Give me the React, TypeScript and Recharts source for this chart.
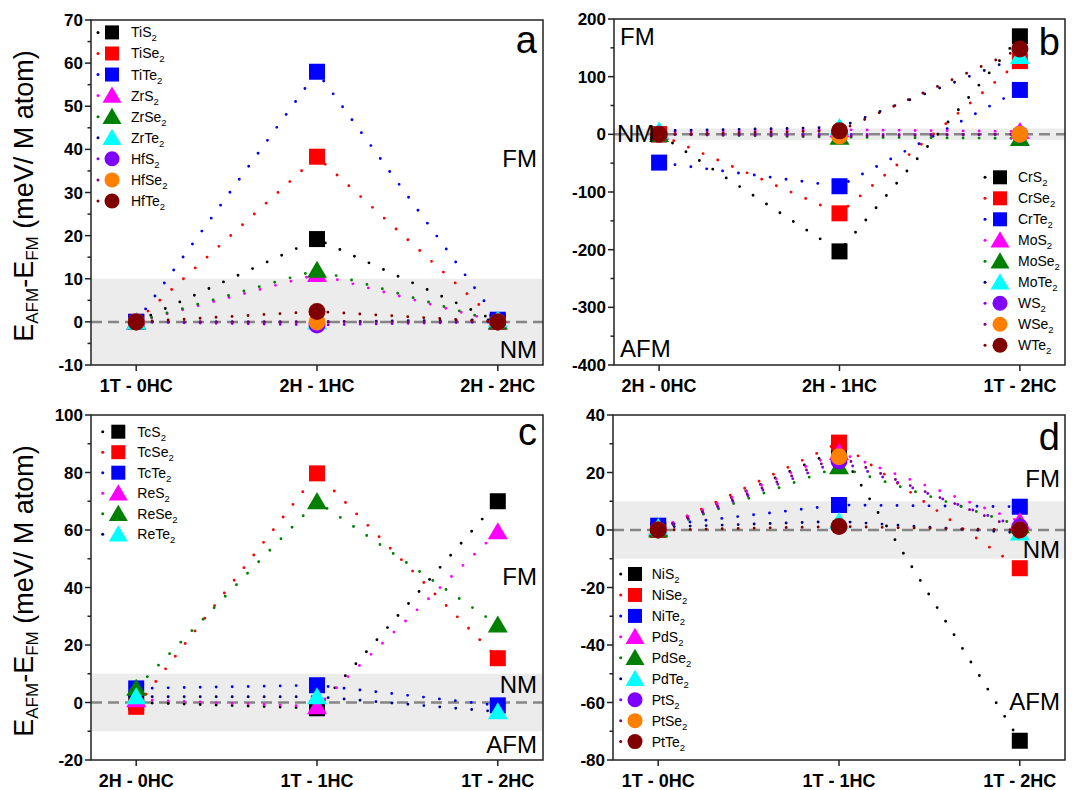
import React from "react";
import { LineChart, Line, XAxis, YAxis, ReferenceArea, ReferenceLine } from "recharts";

const FONT = "Arial, 'Liberation Sans', sans-serif";

// category labels
const catsA = ["1T - 0HC", "2H - 1HC", "2H - 2HC"];
const catsB = ["2H - 0HC", "2H - 1HC", "1T - 2HC"];
const catsC = ["2H - 0HC", "1T - 1HC", "1T - 2HC"];
const catsD = ["1T - 0HC", "1T - 1HC", "1T - 2HC"];

// panel a (Ti, Zr, Hf)
const namesA = ["TiS", "TiSe", "TiTe", "ZrS", "ZrSe", "ZrTe", "HfS", "HfSe", "HfTe"];
const TiS2 = [0, 19.2, 0];
const TiSe2 = [0, 38.3, 0];
const TiTe2 = [0, 58, 0.5];
const ZrS2 = [0, 11, 0];
const ZrSe2 = [0, 12, 0];
const ZrTe2 = [0, 0, 0.5];
const HfS2 = [0, -0.7, 0];
const HfSe2 = [0, 0, 0];
const HfTe2 = [0, 2.4, 0];

// panel b (Cr, Mo, W)
const namesB = ["CrS", "CrSe", "CrTe", "MoS", "MoSe", "MoTe", "WS", "WSe", "WTe"];
const CrS2 = [0, -203, 170];
const CrSe2 = [0, -137, 127];
const CrTe2 = [-49, -90, 77];
const MoS2 = [4, 8, 5];
const MoSe2 = [0, -5, -7];
const MoTe2 = [6, 12, 135];
const WS2 = [0, 0, 0];
const WSe2 = [0, -3, 0];
const WTe2 = [0, 6, 148];

// panel c (Tc, Re)
const namesC = ["TcS", "TcSe", "TcTe", "ReS", "ReSe", "ReTe"];
const TcS2 = [0, -2, 70];
const TcSe2 = [-1.5, 79.7, 15.4];
const TcTe2 = [4.9, 6, -1];
const ReS2 = [1, -1.4, 59.4];
const ReSe2 = [5, 69.9, 27];
const ReTe2 = [2, 2, -3.2];

// panel d (Ni, Pd, Pt)
const namesD = ["NiS", "NiSe", "NiTe", "PdS", "PdSe", "PdTe", "PtS", "PtSe", "PtTe"];
const NiS2 = [0, 28, -73.3];
const NiSe2 = [0, 30.4, -13.3];
const NiTe2 = [1.5, 8.7, 8.1];
const PdS2 = [0.5, 27, 3];
const PdSe2 = [0, 22, 1.5];
const PdTe2 = [1, 3, -1];
const PtS2 = [0, 24, 1];
const PtSe2 = [0, 25.5, 0];
const PtTe2 = [0, 1.2, 0];

const markerColors = ["#000000", "#ff0000", "#0000ff", "#ff00ff", "#008000", "#00ffff", "#8000ff", "#ff8000", "#800000"];
const lineColors = ["#000000", "#ff0000", "#0000ff", "#ff00ff", "#008000", "#000080", "#8000ff", "#800080", "#800000"];
const shapes = ["square", "square", "square", "triangle", "triangle", "triangle", "circle", "circle", "circle"];

function Marker({ cx, cy, shape, fill, small }: any) {
  if (cx == null || cy == null) return null;
  if (shape === "square") {
    const s = small ? 14 : 16;
    return <rect x={cx - s / 2} y={cy - s / 2} width={s} height={s} fill={fill} />;
  }
  if (shape === "triangle") {
    const w = small ? 9.5 : 10;
    const h = small ? 9 : 9.5;
    return (
      <polygon
        points={`${cx},${cy - h} ${cx - w},${cy + h * 0.8} ${cx + w},${cy + h * 0.8}`}
        fill={fill}
      />
    );
  }
  return <circle cx={cx} cy={cy} r={small ? 7.5 : 8.5} fill={fill} />;
}

function makeTicks(lo: number, hi: number, step: number) {
  const out: number[] = [];
  for (let v = lo; v <= hi + 1e-9; v += step) out.push(Math.round(v * 100) / 100);
  return out;
}

const panels = [
  {
    id: "a", cats: catsA, names: namesA,
    values: [TiS2, TiSe2, TiTe2, ZrS2, ZrSe2, ZrTe2, HfS2, HfSe2, HfTe2],
    domain: [-10, 70], major: 10, minor: 5,
    left: 0, top: 0, width: 560, height: 400,
    margin: { top: 20, right: 17, bottom: 5, left: 0 }, yw: 91, xh: 30,
  },
  {
    id: "b", cats: catsB, names: namesB,
    values: [CrS2, CrSe2, CrTe2, MoS2, MoSe2, MoTe2, WS2, WSe2, WTe2],
    domain: [-400, 200], major: 100, minor: 50,
    left: 540, top: 0, width: 532, height: 400,
    margin: { top: 19, right: 7, bottom: 5, left: 0 }, yw: 74, xh: 30,
  },
  {
    id: "c", cats: catsC, names: namesC,
    values: [TcS2, TcSe2, TcTe2, ReS2, ReSe2, ReTe2],
    domain: [-20, 100], major: 20, minor: 10,
    left: 0, top: 400, width: 560, height: 390,
    margin: { top: 15, right: 17, bottom: 5, left: 0 }, yw: 91, xh: 25,
  },
  {
    id: "d", cats: catsD, names: namesD,
    values: [NiS2, NiSe2, NiTe2, PdS2, PdSe2, PdTe2, PtS2, PtSe2, PtTe2],
    domain: [-80, 40], major: 20, minor: 10,
    left: 540, top: 400, width: 532, height: 390,
    margin: { top: 15, right: 7, bottom: 5, left: 0 }, yw: 73, xh: 25,
  },
];

const legends: Record<string, any> = {
  a: { dotX: 98, markX: 112, textX: 131, y0: 32.4, step: 21.07 },
  b: { dotX: 985, markX: 1000, textX: 1018, y0: 177.3, step: 21.0 },
  c: { dotX: 102.7, markX: 118.3, textX: 137.3, y0: 431.7, step: 20.5 },
  d: { dotX: 620.7, markX: 635, textX: 651.7, y0: 574, step: 20.95 },
};

const stateLabels = [
  { t: "a", x: 537, y: 53, size: 38, anchor: "end" },
  { t: "FM", x: 537, y: 167, size: 24, anchor: "end" },
  { t: "NM", x: 537, y: 358, size: 24, anchor: "end" },
  { t: "b", x: 1060, y: 55, size: 38, anchor: "end" },
  { t: "FM", x: 620, y: 45, size: 24, anchor: "start" },
  { t: "NM", x: 617, y: 142, size: 24, anchor: "start" },
  { t: "AFM", x: 620, y: 357, size: 24, anchor: "start" },
  { t: "c", x: 537, y: 445, size: 38, anchor: "end" },
  { t: "FM", x: 537, y: 585, size: 24, anchor: "end" },
  { t: "NM", x: 537, y: 693, size: 24, anchor: "end" },
  { t: "AFM", x: 537, y: 753, size: 24, anchor: "end" },
  { t: "d", x: 1060, y: 450, size: 38, anchor: "end" },
  { t: "FM", x: 1060, y: 487, size: 24, anchor: "end" },
  { t: "NM", x: 1060, y: 558, size: 24, anchor: "end" },
  { t: "AFM", x: 1060, y: 710, size: 24, anchor: "end" },
];

function Panel({ p }: any) {
  const data = p.cats.map((_: string, i: number) => {
    const row: Record<string, number> = { x: i };
    p.values.forEach((arr: number[], k: number) => {
      row[`s${k}`] = arr[i];
    });
    return row;
  });
  const plotLeft = p.margin.left + p.yw;
  const plotBottom = p.height - p.margin.bottom - p.xh;
  const yTicks = makeTicks(p.domain[0], p.domain[1], p.minor);

  return (
    <div style={{ position: "absolute", left: p.left, top: p.top }}>
      <LineChart width={p.width} height={p.height} data={data} margin={p.margin}>
        <ReferenceArea y1={-10} y2={10} fill="#ececec" fillOpacity={1} stroke="none" />
        <ReferenceLine y={0} stroke="#858585" strokeWidth={2.5} strokeDasharray="11 6" />
        <XAxis
          dataKey="x"
          type="number"
          domain={[-0.25, 2.25]}
          ticks={[0, 1, 2]}
          interval={0}
          height={p.xh}
          axisLine={false}
          tickLine={false}
          tick={(t: any) => (
            <g>
              <line x1={t.x} x2={t.x} y1={plotBottom} y2={plotBottom + 6} stroke="#222" strokeWidth={1.5} />
              <text
                x={t.x}
                y={plotBottom + 27}
                textAnchor="middle"
                fontSize={18}
                fontWeight="bold"
                fontFamily={FONT}
                fill="#000"
              >
                {p.cats[t.payload.value]}
              </text>
            </g>
          )}
        />
        <YAxis
          type="number"
          domain={p.domain}
          ticks={yTicks}
          interval={0}
          width={p.yw}
          axisLine={false}
          tickLine={false}
          tick={(t: any) => {
            const v = t.payload.value;
            const isMajor = Math.abs(v % p.major) < 1e-6;
            return (
              <g>
                <line
                  x1={plotLeft - (isMajor ? 6 : 3.5)}
                  x2={plotLeft}
                  y1={t.y}
                  y2={t.y}
                  stroke="#222"
                  strokeWidth={1.5}
                />
                {isMajor && (
                  <text
                    x={plotLeft - 8}
                    y={t.y}
                    dy={6}
                    textAnchor="end"
                    fontSize={17}
                    fontWeight="bold"
                    fontFamily={FONT}
                    fill="#000"
                  >
                    {v}
                  </text>
                )}
              </g>
            );
          }}
        />
        {p.values.map((_: number[], k: number) => (
          <Line
            key={`${p.id}-${k}`}
            type="linear"
            dataKey={`s${k}`}
            stroke={lineColors[k]}
            strokeWidth={2.9}
            strokeDasharray="0 16"
            strokeLinecap="round"
            activeDot={false}
            isAnimationActive={false}
            dot={(d: any) => (
              <Marker
                key={`${p.id}-${k}-${d.index}`}
                cx={d.cx}
                cy={d.cy}
                shape={shapes[k]}
                fill={markerColors[k]}
              />
            )}
          />
        ))}
      </LineChart>
    </div>
  );
}

function LegendBlock({ p }: any) {
  const L = legends[p.id];
  return (
    <g>
      {p.names.map((n: string, k: number) => {
        const y = L.y0 + k * L.step;
        return (
          <g key={`${p.id}-lg-${k}`}>
            <circle cx={L.dotX} cy={y} r={1.5} fill={lineColors[k]} />
            <Marker cx={L.markX} cy={y} shape={shapes[k]} fill={markerColors[k]} small />
            <text x={L.textX} y={y + 5} fontSize={14} fontFamily={FONT} fill="#000">
              {n}
              <tspan fontSize={9.5} dy={4}>2</tspan>
            </text>
          </g>
        );
      })}
    </g>
  );
}

function YLabel({ cy }: { cy: number }) {
  return (
    <text
      transform={`translate(33,${cy}) rotate(-90)`}
      textAnchor="middle"
      fontSize={27}
      fontFamily={FONT}
      fill="#000"
    >
      E<tspan fontSize={17} dy={5}>AFM</tspan>
      <tspan dy={-5}>-E</tspan>
      <tspan fontSize={17} dy={5}>FM</tspan>
      <tspan dy={-5}> (meV/ M atom)</tspan>
    </text>
  );
}

export default function App() {
  return (
    <div
      style={{
        position: "absolute",
        left: 0,
        top: 0,
        width: 1072,
        height: 790,
        background: "#fff",
        overflow: "hidden",
      }}
    >
      {panels.map((p) => (
        <Panel key={p.id} p={p} />
      ))}
      <svg
        width={1072}
        height={790}
        style={{ position: "absolute", left: 0, top: 0, pointerEvents: "none" }}
      >
        {panels.map((p) => {
          const x0 = p.left + p.margin.left + p.yw;
          const x1 = p.left + p.width - p.margin.right;
          const y0 = p.top + p.margin.top;
          const y1 = p.top + p.height - p.margin.bottom - p.xh;
          return (
            <rect
              key={`frame-${p.id}`}
              x={x0}
              y={y0}
              width={x1 - x0}
              height={y1 - y0}
              fill="none"
              stroke="#222"
              strokeWidth={1.5}
            />
          );
        })}
        {panels.map((p) => (
          <LegendBlock key={`lg-${p.id}`} p={p} />
        ))}
        {stateLabels.map((s, i) => (
          <text
            key={`st-${i}`}
            x={s.x}
            y={s.y}
            fontSize={s.size}
            textAnchor={s.anchor as any}
            fontFamily={FONT}
            fill="#000"
          >
            {s.t}
          </text>
        ))}
        <YLabel cy={196} />
        <YLabel cy={591} />
      </svg>
    </div>
  );
}
